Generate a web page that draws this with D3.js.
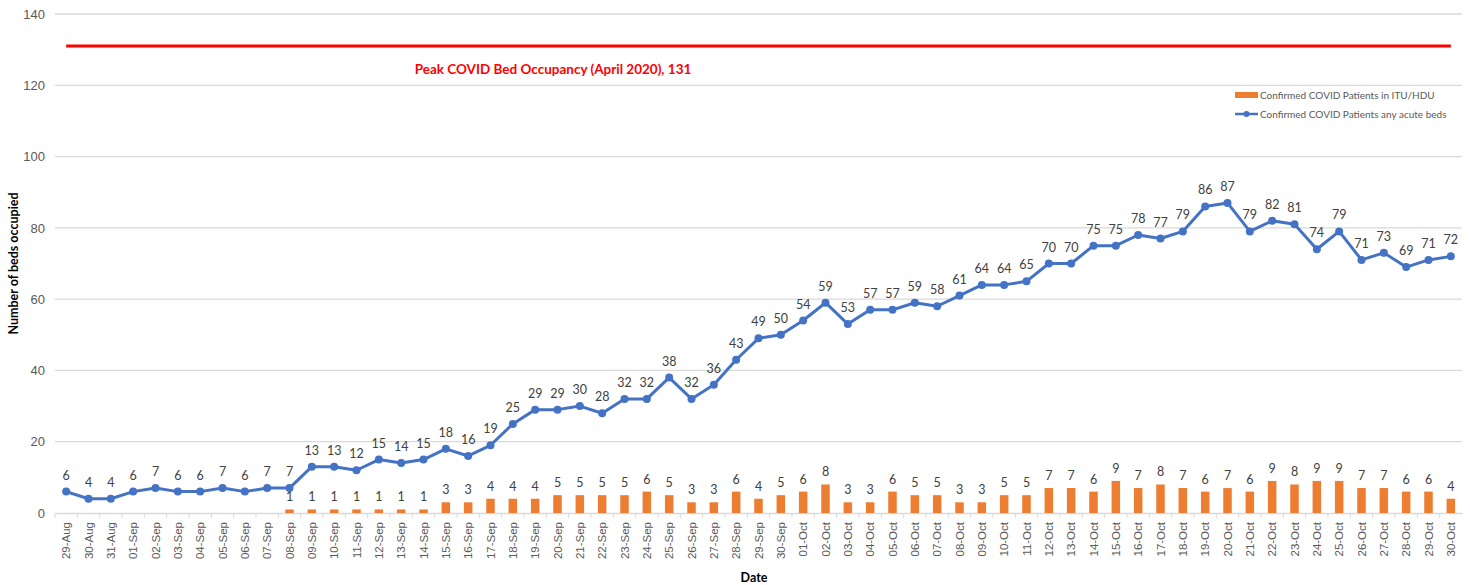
<!DOCTYPE html>
<html lang="en">
<head>
<meta charset="utf-8" />
<title>Confirmed COVID patients</title>
<script src="https://d3js.org/d3.v7.min.js"></script>
<style>
    body, html { margin: 0; padding: 0; background: #fff; overflow: hidden; }
    svg { font-family: Lato, "Open Sans", sans-serif; }
    .grid line { stroke: #d9d9d9; stroke-width: 1.3; }
    .axis-y text { font-size: 13px; fill: #595959; }
    .axis-x text { font-size: 11.5px; fill: #595959; }
    .lbl { font-size: 12.5px; fill: #404040; text-anchor: middle; }
    .title { font-size: 12.5px; font-weight: bold; fill: #000; }
    .legend text { font-size: 10px; fill: #595959; }
</style>
</head>
<body>
<svg id="chart" width="1470" height="585"></svg>
<script>
    const dates = ["29-Aug", "30-Aug", "31-Aug",
        "01-Sep", "02-Sep", "03-Sep", "04-Sep", "05-Sep", "06-Sep", "07-Sep", "08-Sep", "09-Sep", "10-Sep",
        "11-Sep", "12-Sep", "13-Sep", "14-Sep", "15-Sep", "16-Sep", "17-Sep", "18-Sep", "19-Sep", "20-Sep",
        "21-Sep", "22-Sep", "23-Sep", "24-Sep", "25-Sep", "26-Sep", "27-Sep", "28-Sep", "29-Sep", "30-Sep",
        "01-Oct", "02-Oct", "03-Oct", "04-Oct", "05-Oct", "06-Oct", "07-Oct", "08-Oct", "09-Oct", "10-Oct",
        "11-Oct", "12-Oct", "13-Oct", "14-Oct", "15-Oct", "16-Oct", "17-Oct", "18-Oct", "19-Oct", "20-Oct",
        "21-Oct", "22-Oct", "23-Oct", "24-Oct", "25-Oct", "26-Oct", "27-Oct", "28-Oct", "29-Oct", "30-Oct"];

    // any acute beds (line)
    const acuteBeds = [6, 4, 4,
        6, 7, 6, 6, 7, 6, 7, 7, 13, 13,
        12, 15, 14, 15, 18, 16, 19, 25, 29, 29,
        30, 28, 32, 32, 38, 32, 36, 43, 49, 50,
        54, 59, 53, 57, 57, 59, 58, 61, 64, 64,
        65, 70, 70, 75, 75, 78, 77, 79, 86, 87,
        79, 82, 81, 74, 79, 71, 73, 69, 71, 72];

    // ITU/HDU (bars), null = no bar
    const ituHdu = [null, null, null,
        null, null, null, null, null, null, null, 1, 1, 1,
        1, 1, 1, 1, 3, 3, 4, 4, 4, 5,
        5, 5, 5, 6, 5, 3, 3, 6, 4, 5,
        6, 8, 3, 3, 6, 5, 5, 3, 3, 5,
        5, 7, 7, 6, 9, 7, 8, 7, 6, 7,
        6, 9, 8, 9, 9, 7, 7, 6, 6, 4];

    const yTicks = [0, 20, 40, 60, 80, 100, 120, 140];
    const peakValue = 131;
    const peakLabel = "Peak COVID Bed Occupancy (April 2020), 131";
    const seriesNames = ["Confirmed COVID Patients in ITU/HDU", "Confirmed COVID Patients any acute beds"];

    const orange = "#ED7D31", blue = "#4472C4";
    const margin = { top: 14, right: 8, bottom: 72, left: 55 };
    const W = 1470, H = 585;
    const width = W - margin.left - margin.right;
    const height = H - margin.top - margin.bottom;

    const svg = d3.select("#chart");
    const g = svg.append("g").attr("transform", "translate(" + margin.left + "," + margin.top + ")");

    const x = d3.scaleBand().domain(dates).range([0, width]);
    const y = d3.scaleLinear().domain([0, 140]).range([height, 0]);
    const cx = d => x(d) + x.bandwidth() / 2;

    // gridlines
    g.append("g").attr("class", "grid")
        .selectAll("line").data(yTicks.filter(t => t > 0)).enter().append("line")
        .attr("x1", 0).attr("x2", width)
        .attr("y1", d => y(d)).attr("y2", d => y(d));

    // y axis
    const yAxis = g.append("g").attr("class", "axis-y")
        .call(d3.axisLeft(y).tickValues(yTicks).tickSize(0).tickPadding(10));
    yAxis.select(".domain").remove();

    // x axis
    const xAxis = g.append("g").attr("class", "axis-x")
        .attr("transform", "translate(0," + height + ")")
        .call(d3.axisBottom(x).tickSize(0));
    xAxis.select(".domain").attr("stroke", "#d9d9d9").attr("stroke-width", 1.3);
    xAxis.selectAll(".tick text")
        .attr("transform", "rotate(-90)")
        .attr("text-anchor", "end")
        .attr("x", -9).attr("y", 0).attr("dy", "0.35em");
    // separator ticks between categories
    xAxis.selectAll(".sep").data(dates).enter().append("line")
        .attr("x1", d => x(d)).attr("x2", d => x(d))
        .attr("y1", 0).attr("y2", 5)
        .attr("stroke", "#d9d9d9");

    // bars
    const barData = dates.map((d, i) => ({ date: d, v: ituHdu[i] })).filter(d => d.v != null);
    const bw = 8.5;
    g.selectAll(".bar").data(barData).enter().append("rect")
        .attr("x", d => cx(d.date) - bw / 2)
        .attr("width", bw)
        .attr("y", d => y(d.v))
        .attr("height", d => y(0) - y(d.v))
        .attr("fill", orange);
    g.selectAll(".barlbl").data(barData).enter().append("text")
        .attr("class", "lbl")
        .attr("x", d => cx(d.date))
        .attr("y", d => y(d.v) - 8)
        .text(d => d.v);

    // peak line
    g.append("line")
        .attr("x1", cx(dates[0])).attr("x2", cx(dates[dates.length - 1]))
        .attr("y1", y(peakValue)).attr("y2", y(peakValue))
        .attr("stroke", "#FF0000").attr("stroke-width", 3);
    g.append("text")
        .attr("x", 498).attr("y", y(peakValue) + 28)
        .attr("text-anchor", "middle")
        .attr("font-size", 13.5).attr("font-weight", "bold").attr("fill", "#FF0000")
        .text(peakLabel);

    // line series
    const lineData = dates.map((d, i) => ({ date: d, v: acuteBeds[i] }));
    g.append("path").datum(lineData)
        .attr("fill", "none").attr("stroke", blue).attr("stroke-width", 3)
        .attr("stroke-linejoin", "round")
        .attr("d", d3.line().x(d => cx(d.date)).y(d => y(d.v)));
    g.selectAll(".pt").data(lineData).enter().append("circle")
        .attr("cx", d => cx(d.date)).attr("cy", d => y(d.v))
        .attr("r", 4).attr("fill", blue);
    g.selectAll(".linelbl").data(lineData).enter().append("text")
        .attr("class", "lbl")
        .attr("x", d => cx(d.date))
        .attr("y", d => y(d.v) - 12)
        .text(d => d.v);

    // axis titles
    svg.append("text").attr("class", "title")
        .attr("transform", "translate(18," + (margin.top + height / 2) + ") rotate(-90)")
        .attr("text-anchor", "middle")
        .text("Number of beds occupied");
    svg.append("text").attr("class", "title")
        .attr("x", 754).attr("y", 582)
        .attr("text-anchor", "middle")
        .text("Date");

    // legend
    const lg = svg.append("g").attr("class", "legend").attr("transform", "translate(1235,95)");
    lg.append("rect").attr("x", 0).attr("y", -3).attr("width", 23).attr("height", 6).attr("fill", orange);
    lg.append("text").attr("x", 25).attr("y", 0).attr("dy", "0.35em").text(seriesNames[0]);
    lg.append("line").attr("x1", 0).attr("x2", 23).attr("y1", 19).attr("y2", 19)
        .attr("stroke", blue).attr("stroke-width", 2.5);
    lg.append("circle").attr("cx", 11.5).attr("cy", 19).attr("r", 3).attr("fill", blue);
    lg.append("text").attr("x", 25).attr("y", 19).attr("dy", "0.35em").text(seriesNames[1]);
</script>
</body>
</html>
